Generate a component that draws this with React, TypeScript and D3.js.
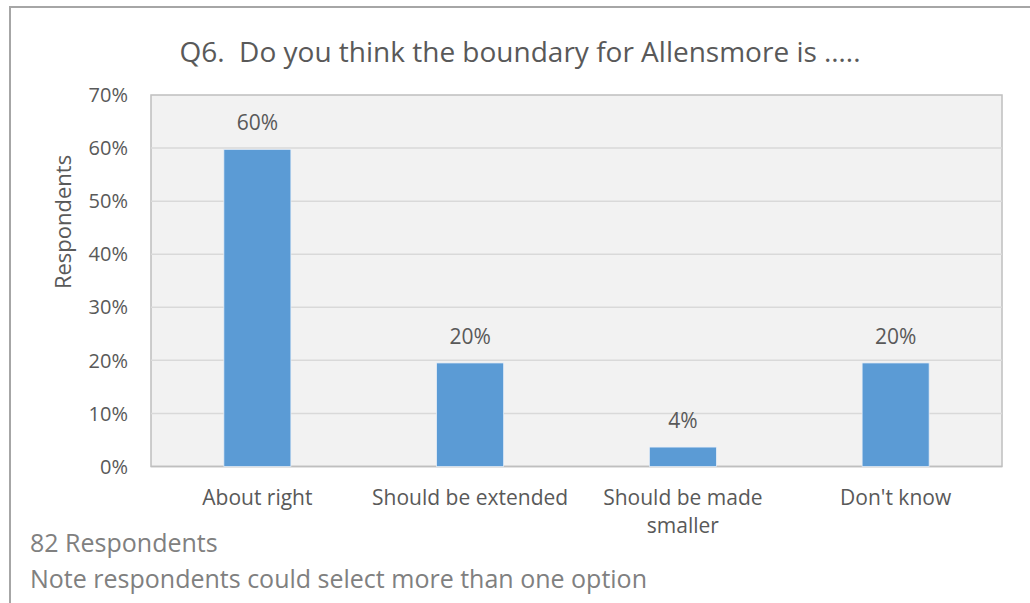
import React from "react";
import * as d3 from "d3";

const categories: string[][] = [
  ["About right"],
  ["Should be extended"],
  ["Should be made", "smaller"],
  ["Don't know"],
];
const values: number[] = [59.76, 19.51, 3.66, 19.51];
const valueLabels: string[] = ["60%", "20%", "4%", "20%"];
const yTicks: number[] = [0, 10, 20, 30, 40, 50, 60, 70];
const title = "Q6.  Do you think the boundary for Allensmore is …..";
const yAxisTitle = "Respondents";
const footnotes: string[] = [
  "82 Respondents",
  "Note respondents could select more than one option",
];

const W = 1030;
const H = 603;
const plot = { left: 151, right: 1002, top: 95, bottom: 466.5 };
const FONT = "'Open Sans', sans-serif";
const TEXT = "#595959";

export default function App() {
  const x = d3
    .scaleBand<number>()
    .domain(categories.map((_, i) => i))
    .range([plot.left, plot.right])
    .paddingInner(0.685)
    .paddingOuter(0.3425);
  const y = d3.scaleLinear().domain([0, 70]).range([plot.bottom, plot.top]);

  return (
    <div style={{ position: "fixed", left: 0, top: 0, width: W, height: H, background: "#fff" }}>
      <svg width={W} height={H} style={{ display: "block", fontFamily: FONT }}>
        <rect x={0} y={0} width={W} height={H} fill="#fff" />
        {/* outer chart border */}
        <rect x={10} y={7} width={W + 20} height={H + 20} fill="none" stroke="#a6a6a6" strokeWidth={2} />
        {/* plot area */}
        <rect
          x={plot.left}
          y={plot.top}
          width={plot.right - plot.left}
          height={plot.bottom - plot.top}
          fill="#f2f2f2"
          stroke="#bfbfbf"
          strokeWidth={1.5}
        />
        {yTicks.map((t) => (
          <g key={t}>
            {t > 0 && t < 70 && (
              <line x1={plot.left} x2={plot.right} y1={y(t)} y2={y(t)} stroke="#d9d9d9" strokeWidth={1.5} />
            )}
            <text x={128} y={y(t)} dy="0.36em" textAnchor="end" fontSize={20} fill={TEXT}>
              {t}%
            </text>
          </g>
        ))}
        <line x1={plot.left} x2={plot.right} y1={plot.bottom} y2={plot.bottom} stroke="#bfbfbf" strokeWidth={1.5} />
        {values.map((v, i) => (
          <g key={i}>
            <rect
              x={x(i)!}
              y={y(v)}
              width={x.bandwidth()}
              height={plot.bottom - y(v)}
              fill="#5b9bd5"
              stroke="#e6eef8"
              strokeWidth={0.75}
            />
            <text x={x(i)! + x.bandwidth() / 2} y={y(v) - 19} textAnchor="middle" fontSize={21} fill={TEXT}>
              {valueLabels[i]}
            </text>
            {categories[i].map((line, j) => (
              <text
                key={j}
                x={x(i)! + x.bandwidth() / 2}
                y={505 + j * 28}
                textAnchor="middle"
                fontSize={21}
                fill={TEXT}
              >
                {line}
              </text>
            ))}
          </g>
        ))}
        <text x={520} y={62} textAnchor="middle" fontSize={28} fill={TEXT} style={{ whiteSpace: "pre" }}>
          {title}
        </text>
        <text
          transform={`translate(71, 222) rotate(-90)`}
          textAnchor="middle"
          fontSize={22}
          fill={TEXT}
        >
          {yAxisTitle}
        </text>
        {footnotes.map((f, i) => (
          <text key={i} x={30} y={552 + i * 36} fontSize={25} fill="#808080">
            {f}
          </text>
        ))}
      </svg>
    </div>
  );
}
